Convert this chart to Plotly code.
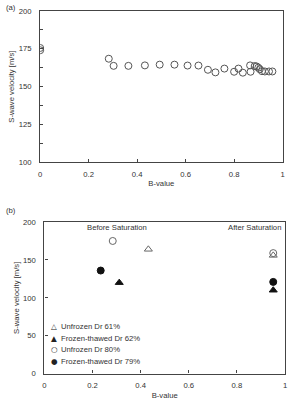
import plotly.graph_objects as go

# ---------------- data ----------------
# (a) B-value vs S-wave velocity
a_bvalue = [0.0, 0.0, 0.283, 0.303, 0.364, 0.432, 0.493, 0.554, 0.608, 0.653,
            0.692, 0.723, 0.760, 0.800, 0.818, 0.836, 0.866, 0.868, 0.885,
            0.893, 0.900, 0.906, 0.915, 0.927, 0.944, 0.958]
a_vs = [175.5, 174.0, 168.4, 163.7, 163.7, 164.0, 164.5, 164.5, 163.9, 163.9,
        161.1, 159.4, 161.9, 159.8, 161.9, 159.2, 164.0, 159.8, 163.6,
        163.3, 162.5, 161.5, 160.2, 160.0, 160.0, 160.0]

# (b) before / after saturation
b_names = ["Unfrozen Dr 61%", "Frozen-thawed Dr 62%", "Unfrozen Dr 80%", "Frozen-thawed Dr 79%"]
b_bvalue = [[0.432, 0.951], [0.311, 0.951], [0.284, 0.951], [0.234, 0.951]]
b_vs = [[164, 156], [120, 110], [175, 159], [136, 121]]
b_symbols = ["triangle-up-open", "triangle-up", "circle-open", "circle"]
b_glyphs = ["\u25B3", "\u25B2", "\u25CB", "\u25CF"]

x_ticks = [0, 0.2, 0.4, 0.6, 0.8, 1]
x_ticklabels = ["0", "0.2", "0.4", "0.6", "0.8", "1"]
a_yticks = [100, 125, 150, 175, 200]
b_yticks = [0, 50, 100, 150, 200]

FONT = "Liberation Sans, Arial, sans-serif"
TXT = "#333333"
LINE = "#444444"
FS = 7.7
W, H = 290, 404

fig = go.Figure()

fig.add_trace(go.Scatter(
    x=a_bvalue, y=a_vs, mode="markers", xaxis="x", yaxis="y",
    marker=dict(symbol="circle-open", size=7, color="#555555", line=dict(width=1)),
    showlegend=False))

for name, xs, ys, sym in zip(b_names, b_bvalue, b_vs, b_symbols):
    col = "#111111" if "open" not in sym else "#666666"
    fig.add_trace(go.Scatter(
        x=xs, y=ys, mode="markers", name=name, xaxis="x2", yaxis="y2",
        marker=dict(symbol=sym, size=7, color=col, line=dict(width=1, color=col)),
        showlegend=False))

def px_x(p):
    return p / W

def px_y(p):
    return 1 - p / H

axis_common = dict(showgrid=False, zeroline=False, showline=True, mirror=True,
                   linecolor=LINE, linewidth=1.2,
                   tickfont=dict(family=FONT, size=FS, color=TXT))

fig.update_layout(
    width=W, height=H, margin=dict(l=0, r=0, t=0, b=0),
    paper_bgcolor="white", plot_bgcolor="white",
    font=dict(family=FONT, size=FS, color=TXT),
    xaxis=dict(domain=[px_x(38.7), px_x(284.5)], anchor="y", range=[0, 1],
               tickvals=x_ticks, ticktext=x_ticklabels, ticks="inside", ticklen=3,
               tickcolor=LINE, ticklabelstandoff=4,
               title=dict(text="B-value", standoff=2, font=dict(family=FONT, size=FS, color=TXT)),
               **axis_common),
    yaxis=dict(domain=[px_y(162), px_y(7)], anchor="x", range=[100, 200],
               tickvals=a_yticks, ticks="", ticklabelstandoff=6,
               minor=dict(dtick=12.5, ticks="inside", ticklen=3, tickcolor=LINE, showgrid=False),
               title=dict(text="S-wave velocity [m/s]", standoff=2,
                          font=dict(family=FONT, size=FS, color=TXT)),
               **axis_common),
    xaxis2=dict(domain=[px_x(43), px_x(287)], anchor="y2", range=[0, 1],
                tickvals=x_ticks, ticktext=x_ticklabels, ticks="inside", ticklen=3,
                tickcolor=LINE, ticklabelstandoff=4,
                title=dict(text="B-value", standoff=3, font=dict(family=FONT, size=FS, color=TXT)),
                **axis_common),
    yaxis2=dict(domain=[px_y(378), px_y(223)], anchor="x2", range=[0, 200],
                tickvals=b_yticks, ticks="inside", ticklen=3, tickcolor=LINE,
                ticklabelstandoff=6,
                title=dict(text="S-wave velocity [m/s]", standoff=2,
                           font=dict(family=FONT, size=FS, color=TXT)),
                **axis_common),
)

ann = []
def add_text(text, x, y, xanchor="left", size=FS, color=TXT, family=FONT):
    ann.append(dict(text=text, x=px_x(x), y=px_y(y), xref="paper", yref="paper",
                    xanchor=xanchor, yanchor="middle", showarrow=False,
                    font=dict(family=family, size=size, color=color)))

add_text("(a)", 2, 4)
add_text("(b)", 2, 211.7)
add_text("Before Saturation", 116.7, 229, xanchor="center")
add_text("After Saturation", 285, 229, xanchor="right")

legend_y = [330, 342.2, 353.7, 365.2]
for name, glyph, ly in zip(b_names, b_glyphs, legend_y):
    add_text(glyph, 53, ly, xanchor="center", size=7.5, color="#222222", family="DejaVu Sans")
    add_text(name, 57.5, ly)

fig.update_layout(annotations=ann)
fig.write_html("out.html")
